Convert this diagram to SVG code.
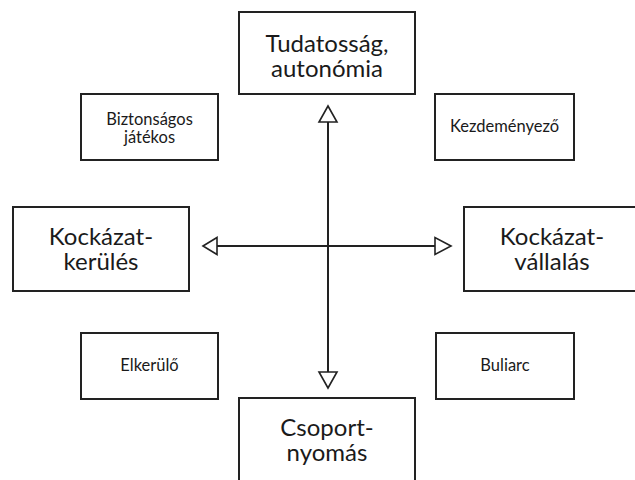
<svg xmlns="http://www.w3.org/2000/svg" width="635" height="480" viewBox="0 0 635 480">
<style>
.box{fill:#fff;stroke:#222;stroke-width:2}
.big{font-family:Lato,"Open Sans",sans-serif;font-size:24px;fill:#1a1a1a;text-anchor:middle}
.small{font-family:Lato,"Open Sans",sans-serif;font-size:16.5px;fill:#1a1a1a;text-anchor:middle}
.line{stroke:#222;stroke-width:2;fill:none}
.head{fill:#fff;stroke:#222;stroke-width:1.6;stroke-linejoin:miter}
</style>
<rect width="635" height="480" fill="#fff"/>
<g id="connectors">
<line class="line" x1="328" y1="122" x2="328" y2="372"/>
<line class="line" x1="217" y1="246" x2="435" y2="246"/>
<polygon class="head" points="328,106 319,122 337,122"/>
<polygon class="head" points="328,388 319,372 337,372"/>
<polygon class="head" points="203,246 217,237.5 217,254.5"/>
<polygon class="head" points="451,246 435,237.5 435,254.5"/>
</g>
<g id="top">
<rect class="box" x="239" y="12" width="176" height="82"/>
<text class="big" x="327" y="52">Tudatosság,</text>
<text class="big" x="327" y="77">autonómia</text>
</g>
<g id="left">
<rect class="box" x="13" y="207" width="176" height="84"/>
<text class="big" x="101" y="245">Kockázat-</text>
<text class="big" x="101" y="270">kerülés</text>
</g>
<g id="right">
<rect class="box" x="464" y="207" width="176" height="84"/>
<text class="big" x="552" y="245">Kockázat-</text>
<text class="big" x="552" y="270">vállalás</text>
</g>
<g id="bottom">
<rect class="box" x="239" y="398" width="176" height="84"/>
<text class="big" x="327" y="436">Csoport-</text>
<text class="big" x="327" y="461">nyomás</text>
</g>
<g id="tl">
<rect class="box" x="81" y="94" width="137" height="66"/>
<text class="small" x="149.5" y="125">Biztonságos</text>
<text class="small" x="149.5" y="143">játékos</text>
</g>
<g id="tr">
<rect class="box" x="435" y="94" width="139" height="66"/>
<text class="small" x="504.5" y="132">Kezdeményező</text>
</g>
<g id="bl">
<rect class="box" x="81" y="333" width="137" height="66"/>
<text class="small" x="149.5" y="371">Elkerülő</text>
</g>
<g id="br">
<rect class="box" x="436" y="333" width="138" height="66"/>
<text class="small" x="505" y="371">Buliarc</text>
</g>
</svg>
